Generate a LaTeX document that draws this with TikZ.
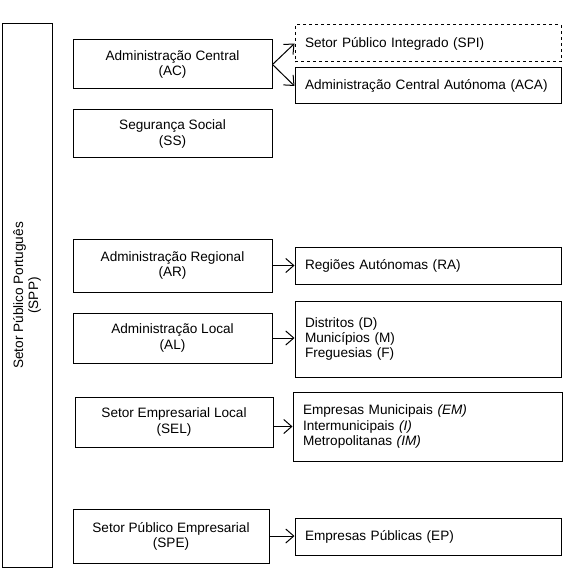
\documentclass[tikz,border=0pt]{standalone}
\usepackage{fontspec}
\setmainfont{Liberation Sans}
\usetikzlibrary{arrows.meta}

\begin{document}
\begin{tikzpicture}[
	% Define styles and settings
	x=1pt, y=-1pt,
	font=\fontsize{13.6}{15.2}\selectfont,
	unit/.style={rectangle, draw, line width=1pt, align=center, minimum width=199pt, minimum height=50pt, inner sep=0pt},
	entity/.style={rectangle, draw, line width=1pt, text width=246pt, align=left, inner xsep=10pt, inner ysep=0pt, minimum height=37pt},
	arrow/.style={-{Straight Barb[length=8pt,width=14pt]}, line width=1pt}
	]
	% \draw[help lines] (0, 0) grid (574, 580);
	\useasboundingbox (0,0) rectangle (574,580);

	\draw (27,295.5) node[rotate=90, minimum width=543pt, minimum height=50pt, draw, line width=1pt, align=center] (SPP) {Setor Público Português\\(SPP)};

	    \draw (172.5,64.5) node[unit, minimum height=49pt] (AC) {Administração Central\\(AC)};
	    \draw (172.5,134) node[unit, minimum height=48pt] (SS) {Segurança Social\\(SS)};
	    \draw (172.5,265.5) node[unit, minimum height=53pt] (AR) {Administração Regional\\(AR)};
	    \draw (172.5,338) node[unit] (AL) {Administração Local\\(AL)};
	    \draw (174,422) node[unit, minimum width=198pt] (SEL) {Setor Empresarial Local\\(SEL)};
	    \draw (171,536) node[unit, minimum width=196pt, minimum height=54pt] (SPE) {Setor Público Empresarial\\(SPE)};

		\draw (428,43.5) node[entity, dashed] (SPI) {Setor Público Integrado (SPI)};
		\draw (428,86) node[entity, minimum height=36pt] (ACA) {Administração Central Autónoma (ACA)};
		\draw (428,265.5) node[entity] (RA) {Regiões Autónomas (RA)};
		\draw (428,339) node[entity, minimum height=76pt] (DMF) {Distritos (D)\\Municípios (M)\\Freguesias (F)};
		\draw (427.5,426.5) node[entity, text width=249pt, minimum height=69pt] (EM) {Empresas Municipais \textit{(EM)}\\Intermunicipais \textit{(I)}\\Metropolitanas \textit{(IM)}};
		\draw (428,536.5) node[entity] (EP) {Empresas Públicas (EP)};

		\draw[arrow] (AC.east) -- (SPI.west);
		\draw[arrow] (AC.east) -- (ACA.west);

		\draw[arrow] (AR.east) -- (RA.west);
		\draw[arrow] (AL.east) -- (AL.east -| DMF.west);
		\draw[arrow] (EM.west -| SEL.east) -- (EM.west);
		\draw[arrow] (SPE.east) -- (SPE.east -| EP.west);

\end{tikzpicture}
\end{document}
